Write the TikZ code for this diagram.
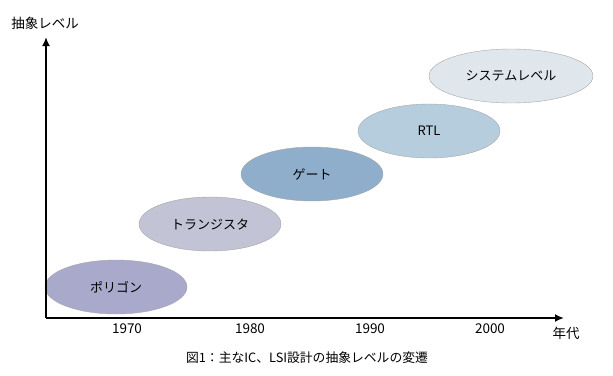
\documentclass[tikz,border=0pt]{standalone}
\usepackage{fontspec}
\setmainfont{Noto Sans CJK JP}
\usepackage{tikz}
\usetikzlibrary{positioning,shapes.geometric,arrows.meta}

\definecolor{polycol}{HTML}{A9A9CC}
\definecolor{trcol}{HTML}{C2C3D4}
\definecolor{gatecol}{HTML}{8FAECB}
\definecolor{rtlcol}{HTML}{B6CDDD}
\definecolor{syscol}{HTML}{DFE6EC}

\begin{document}
\begin{tikzpicture}[x=1pt,y=-1pt,>={Latex[length=9pt,width=8pt]},
  level/.style={ellipse,draw=gray!70,thin,minimum width=142pt,minimum height=54pt,font=\fontsize{13}{15}\selectfont},
  yearlbl/.style={font=\fontsize{13.5}{15}\selectfont}]
            \useasboundingbox (0,0) rectangle (613,375);
            \coordinate (origin) at (46,318);
            \coordinate (ytop) at (46,37);
            \coordinate (xend) at (564,318);
            % levels
            \node[level,fill=polycol] (poly) at (116,287) {ポリゴン};
            \node[level,fill=trcol] (tr) at (210,224) {トランジスタ};
            \node[level,fill=gatecol] (gate) at (312,174) {ゲート};
            \node[level,fill=rtlcol] (rtl) at (429,131) {RTL};
            \node[level,fill=syscol,minimum width=164pt] (sys) at (511,76) {システムレベル};
            % axes
            \draw[->,line width=1.8pt] (origin) -- (ytop);
            \draw[->,line width=1.8pt] (origin) -- (xend);
            \node[yearlbl] (ylbl) at (45,23) {抽象レベル};
            \node[yearlbl] (xlbl) at (566,333) {年代};
            \node[yearlbl] (y1970) at (127,329) {1970};
            \node[yearlbl] (y1980) at (250,329) {1980};
            \node[yearlbl] (y1990) at (370,329) {1990};
            \node[yearlbl] (y2000) at (490,329) {2000};
            \node[font=\fontsize{12.8}{14}\selectfont] (caption) at (307,358) {図1：主なIC、LSI設計の抽象レベルの変遷};
        \end{tikzpicture}
\end{document}
